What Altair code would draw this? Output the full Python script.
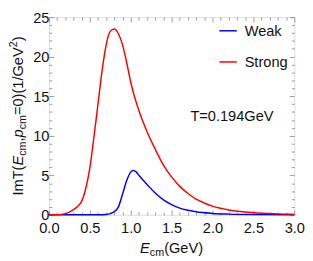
import altair as alt
import pandas as pd

# ---- data ----
red_x = [0.0, 0.1, 0.2, 0.25, 0.3, 0.35, 0.4, 0.45, 0.5, 0.55, 0.6, 0.65, 0.7, 0.75, 0.8,
         0.85, 0.9, 0.95, 1.0, 1.05, 1.1, 1.2, 1.3, 1.4, 1.5, 1.6, 1.7, 1.8, 1.9, 2.0,
         2.2, 2.4, 2.6, 2.8, 3.0]
red_y = [0.0, 0.02, 0.15, 0.35, 0.65, 1.05, 1.7, 3.3, 5.9, 9.8, 14.0, 18.2, 21.5, 23.2, 23.5,
         22.9, 21.5, 19.3, 16.8, 14.8, 13.2, 10.5, 8.3, 6.3, 4.8, 3.6, 2.7, 2.0, 1.5, 1.1,
         0.62, 0.36, 0.21, 0.12, 0.07]
blue_x = [0.0, 0.5, 0.6, 0.7, 0.75, 0.8, 0.85, 0.9, 0.95, 1.0, 1.03, 1.07, 1.1, 1.15, 1.2,
          1.3, 1.4, 1.5, 1.6, 1.7, 1.8, 2.0, 2.2, 2.5, 3.0]
blue_y = [0.0, 0.0, 0.005, 0.05, 0.15, 0.4, 1.0, 2.6, 4.3, 5.4, 5.6, 5.4, 5.0, 4.4, 3.85,
          2.75, 1.9, 1.3, 0.85, 0.58, 0.38, 0.18, 0.09, 0.035, 0.01]
series_names = ["Weak", "Strong"]
series_colors = ["#0000ff", "#ff0000"]
x_ticks = [round(i * 0.1, 1) for i in range(31)]
y_ticks = list(range(26))
annotation = "T=0.194GeV"

df = pd.concat([
    pd.DataFrame({"E": blue_x, "v": blue_y, "s": "Weak"}),
    pd.DataFrame({"E": red_x, "v": red_y, "s": "Strong"}),
])

W, H = 252, 203
FS = 15
SUBFS = 11
FONT = "Liberation Sans"
GRAY = "#999999"

CW = {'I': 278, 'm': 833, 'T': 611, '(': 333, ')': 333, 'E': 667, 'c': 500, ',': 278,
      'p': 556, '=': 584, '0': 556, '1': 556, '/': 278, 'G': 778, 'e': 556, 'V': 667,
      '2': 556}


def tw(s, fs):
    return sum(CW.get(ch, 556) for ch in s) / 1000.0 * fs


# pieces: (text, size, shift(+down), italic)
x_title = [("E", FS, 0, True), ("cm", SUBFS, 3.5, False), ("(GeV)", FS, 0, False)]
y_title = [("ImT(", FS, 0, False), ("E", FS, 0, True), ("cm", SUBFS, 3.5, False),
           (",", FS, 0, False), ("p", FS, 0, True), ("cm", SUBFS, 3.5, False),
           ("=0)(1/GeV", FS, 0, False), ("2", SUBFS, -5.5, False), (")", FS, 0, False)]

major_x = "abs(datum.value*2 - round(datum.value*2)) < 0.001"
major_y = "abs(datum.value/5 - round(datum.value/5)) < 0.001"

xs = alt.Scale(domain=[0, 3], nice=False)
ys = alt.Scale(domain=[0, 25], nice=False)


def xaxis(orient, labels):
    return alt.Axis(orient=orient, values=x_ticks, title=None, domain=False, grid=False,
                    labels=labels, labelExpr=f"{major_x} ? format(datum.value, '.1f') : ''",
                    labelFlush=False, labelOverlap=False, labelFont=FONT, labelFontSize=FS,
                    labelColor="#111111", labelPadding=11,
                    tickColor=GRAY, tickWidth=1,
                    tickSize={"condition": {"test": major_x, "value": -5}, "value": -3})


def yaxis(orient, labels):
    return alt.Axis(orient=orient, values=y_ticks, title=None, domain=False, grid=False,
                    labels=labels, labelExpr=f"{major_y} ? format(datum.value, 'd') : ''",
                    labelFlush=False, labelOverlap=False, labelFont=FONT, labelFontSize=FS,
                    labelColor="#111111", labelPadding=5,
                    tickColor=GRAY, tickWidth=1,
                    tickSize={"condition": {"test": major_y, "value": -5}, "value": -3})


lines = alt.Chart(df).mark_line(strokeWidth=1.5, interpolate="monotone").encode(
    x=alt.X("E:Q", scale=xs, axis=xaxis("bottom", True)),
    y=alt.Y("v:Q", scale=ys, axis=yaxis("left", True)),
    color=alt.Color("s:N", scale=alt.Scale(domain=series_names, range=series_colors),
                    legend=alt.Legend(orient="none", legendX=174, legendY=4, title=None,
                                      symbolType="stroke", symbolSize=324,
                                      symbolStrokeWidth=1.5, labelFont=FONT,
                                      labelFontSize=FS, labelColor="#111111",
                                      labelOffset=7, rowPadding=14, padding=0)),
    order=alt.Order("E:Q"),
)

ghost = alt.Chart(df).mark_line(strokeOpacity=0).encode(
    x=alt.X("E:Q", scale=xs, axis=xaxis("top", False)),
    y=alt.Y("v:Q", scale=ys, axis=yaxis("right", False)),
    detail="s:N",
)

# title pieces
rows = []
L = sum(tw(t, s) for t, s, _, _ in x_title)
cx = W / 2 - L / 2
for t, s, sh, it in x_title:
    rows.append({"t": t, "px": cx, "py": 242 + sh, "fs": s, "it": "italic" if it else "normal", "a": 0})
    cx += tw(t, s)
L = sum(tw(t, s) for t, s, _, _ in y_title)
cy = H / 2 + L / 2
for t, s, sh, it in y_title:
    rows.append({"t": t, "px": -27 + sh, "py": cy, "fs": s, "it": "italic" if it else "normal", "a": 270})
    cy -= tw(t, s)

text_layers = []
for i, r in enumerate(rows):
    text_layers.append(
        alt.Chart(pd.DataFrame({"t": [r["t"]]})).mark_text(
            align="left", baseline="alphabetic", font=FONT, fontSize=r["fs"],
            fontStyle=r["it"], angle=r["a"], color="#111111"
        ).encode(x=alt.value(r["px"]), y=alt.value(r["py"]), text="t:N")
    )

ann = alt.Chart(pd.DataFrame({"t": [annotation]})).mark_text(
    align="center", baseline="middle", font=FONT, fontSize=FS, color="#111111"
).encode(x=alt.value(188), y=alt.value(102), text="t:N")

chart = alt.layer(lines, ghost, ann, *text_layers).resolve_axis(
    x="independent", y="independent"
).properties(
    width=W, height=H,
    autosize=alt.AutoSizeParams(type="none"),
    padding={"left": 42, "top": 6, "right": 11, "bottom": 44},
).configure_view(stroke=GRAY, strokeWidth=1).configure(background="white")

chart.save("out.html", embed_options={"renderer": "svg", "actions": False})
